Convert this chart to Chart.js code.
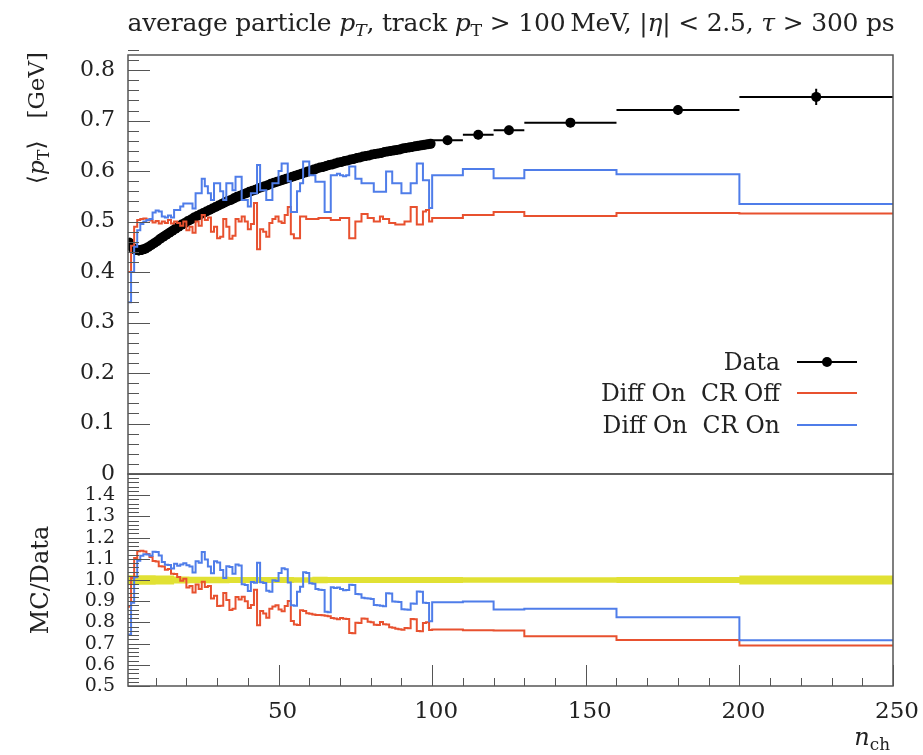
<!DOCTYPE html>
<html>
<head>
<meta charset="utf-8">
<script src="https://cdn.jsdelivr.net/npm/chart.js@4.4.1/dist/chart.umd.min.js"></script>
<style>
  html, body { margin: 0; padding: 0; background: #fff; }
  #wrap { position: relative; width: 923px; height: 755px; overflow: hidden; font-family: 'DejaVu Serif', 'Liberation Serif', serif; color: #222; }
  canvas { position: absolute; left: 0; }
  #c-main { top: 0; }
  #c-ratio { top: 470px; }
  .txt { position: absolute; white-space: nowrap; }
  #title { left: 127px; width: 768px; top: 8px; text-align: center; font-size: 25px; letter-spacing: -0.2px; }
  #ytitle { left: 21px; top: 352px; width: 300px; text-align: right; font-size: 23px; line-height: 30px; transform: rotate(-90deg); transform-origin: left top; }
  #rtitle { left: 25px; top: 680px; width: 200px; text-align: center; font-size: 24px; line-height: 30px; transform: rotate(-90deg); transform-origin: left top; }
  #xtitle { right: 33px; top: 723px; font-size: 24px; }
  sub { font-size: 70%; vertical-align: -0.3em; line-height: 0; }
  #legend { position: absolute; right: 66px; top: 346px; }
  .lrow { display: flex; align-items: center; justify-content: flex-end; height: 31.5px; font-size: 23.5px; }
  .lsample { position: relative; width: 60px; height: 0; margin-left: 17px; }
  .lsample .ln { position: absolute; left: 0; right: 0; top: -1px; height: 2px; }
  .lsample .dot { position: absolute; left: 25px; top: -5px; width: 10px; height: 10px; border-radius: 50%; background: #000; }
</style>
</head>
<body>
<div id="wrap">
  <canvas id="c-main" width="923" height="480"></canvas>
  <canvas id="c-ratio" width="923" height="285"></canvas>
  <div id="title" class="txt">average particle <i>p</i><sub><i>T</i></sub>, track <i>p</i><sub>T</sub> &gt; 100&#8201;MeV, |<i>η</i>| &lt; 2.5, <i>τ</i> &gt; 300 ps</div>
  <div id="ytitle" class="txt">⟨<i>p</i><sub>T</sub>⟩ &nbsp;&nbsp;[GeV]</div>
  <div id="rtitle" class="txt">MC/Data</div>
  <div id="xtitle" class="txt"><i>n</i><sub>ch</sub></div>
  <div id="legend"></div>
</div>
<script>
// bin edges in n_ch (unit bins up to 100, then wide bins)
const binEdges = [
  1, 2, 3, 4, 5, 6, 7, 8, 9, 10, 11, 12, 13, 14, 15, 16, 17, 18, 19, 20,
  21, 22, 23, 24, 25, 26, 27, 28, 29, 30, 31, 32, 33, 34, 35, 36, 37, 38, 39, 40,
  41, 42, 43, 44, 45, 46, 47, 48, 49, 50, 51, 52, 53, 54, 55, 56, 57, 58, 59, 60,
  61, 62, 63, 64, 65, 66, 67, 68, 69, 70, 71, 72, 73, 74, 75, 76, 77, 78, 79, 80,
  81, 82, 83, 84, 85, 86, 87, 88, 89, 90, 91, 92, 93, 94, 95, 96, 97, 98, 99, 100,
  110, 120, 130, 160, 200, 250
];

// Data <pT> [GeV]
const dataVals = [
  0.458, 0.448, 0.444, 0.443, 0.444, 0.446, 0.449, 0.453, 0.457, 0.461,
  0.466, 0.470, 0.474, 0.478, 0.482, 0.486, 0.490, 0.494, 0.497, 0.501,
  0.504, 0.508, 0.511, 0.514, 0.517, 0.520, 0.523, 0.526, 0.529, 0.532,
  0.535, 0.538, 0.541, 0.543, 0.546, 0.549, 0.551, 0.554, 0.556, 0.559,
  0.561, 0.563, 0.566, 0.568, 0.570, 0.572, 0.575, 0.577, 0.579, 0.581,
  0.583, 0.585, 0.587, 0.589, 0.591, 0.593, 0.595, 0.597, 0.599, 0.601,
  0.603, 0.605, 0.607, 0.608, 0.610, 0.612, 0.613, 0.615, 0.617, 0.618,
  0.620, 0.621, 0.623, 0.624, 0.626, 0.627, 0.629, 0.630, 0.631, 0.633,
  0.634, 0.635, 0.636, 0.638, 0.639, 0.640, 0.641, 0.642, 0.643, 0.645,
  0.646, 0.647, 0.648, 0.649, 0.650, 0.651, 0.652, 0.653, 0.654,
  0.661, 0.672, 0.681, 0.696, 0.721, 0.747
];
const dataErr = [
  0.010, 0.010, 0.010, 0.010, 0.010, 0.010, 0.010, 0.010, 0.010, 0.010,
  0.010, 0.010, 0.010, 0.010, 0.010, 0.008, 0.008, 0.008, 0.008, 0.008,
  0.008, 0.008, 0.008, 0.008, 0.008, 0.008, 0.008, 0.008, 0.008, 0.008,
  0.008, 0.008, 0.008, 0.008, 0.008, 0.008, 0.008, 0.008, 0.008, 0.008,
  0.008, 0.008, 0.008, 0.008, 0.008, 0.008, 0.008, 0.008, 0.008, 0.008,
  0.008, 0.008, 0.008, 0.008, 0.008, 0.008, 0.008, 0.008, 0.008, 0.008,
  0.009, 0.009, 0.009, 0.009, 0.009, 0.009, 0.009, 0.009, 0.009, 0.009,
  0.009, 0.009, 0.009, 0.009, 0.009, 0.009, 0.009, 0.009, 0.009, 0.009,
  0.009, 0.009, 0.009, 0.009, 0.009, 0.009, 0.009, 0.009, 0.009, 0.009,
  0.009, 0.009, 0.009, 0.009, 0.009, 0.009, 0.009, 0.009, 0.009,
  0.009, 0.009, 0.009, 0.009, 0.010, 0.016
];

// Diff On  CR Off
const mcCrOff = [
  0.400, 0.452, 0.490, 0.503, 0.505, 0.506, 0.504, 0.502, 0.498, 0.501,
  0.496, 0.500, 0.497, 0.503, 0.496, 0.500, 0.497, 0.492, 0.500, 0.483,
  0.490, 0.478, 0.500, 0.492, 0.513, 0.503, 0.508, 0.480, 0.490, 0.467,
  0.470, 0.505, 0.490, 0.466, 0.472, 0.505, 0.500, 0.510, 0.500, 0.485,
  0.495, 0.537, 0.445, 0.485, 0.480, 0.470, 0.497, 0.505, 0.510, 0.500,
  0.497, 0.513, 0.529, 0.475, 0.467, 0.467, 0.510, 0.510, 0.505, 0.505,
  0.505, 0.505, 0.507, 0.507, 0.507, 0.507, 0.503, 0.503, 0.503, 0.507,
  0.507, 0.507, 0.467, 0.467, 0.500, 0.500, 0.515, 0.515, 0.507, 0.507,
  0.500, 0.500, 0.510, 0.505, 0.505, 0.497, 0.497, 0.494, 0.494, 0.494,
  0.500, 0.500, 0.529, 0.529, 0.494, 0.494, 0.520, 0.523, 0.500,
  0.507, 0.513, 0.519, 0.511, 0.517, 0.516
];

// Diff On  CR On
const mcCrOn = [
  0.340, 0.400, 0.450, 0.483, 0.495, 0.500, 0.503, 0.505, 0.518, 0.522,
  0.520, 0.510, 0.508, 0.512, 0.508, 0.523, 0.523, 0.530, 0.536, 0.536,
  0.536, 0.526, 0.556, 0.556, 0.585, 0.570, 0.556, 0.543, 0.576, 0.576,
  0.560, 0.543, 0.576, 0.576, 0.562, 0.589, 0.589, 0.543, 0.543, 0.530,
  0.556, 0.556, 0.612, 0.562, 0.562, 0.543, 0.543, 0.576, 0.576, 0.600,
  0.615, 0.615, 0.580, 0.519, 0.519, 0.560, 0.576, 0.619, 0.619, 0.592,
  0.592, 0.579, 0.579, 0.579, 0.519, 0.519, 0.592, 0.592, 0.595, 0.592,
  0.590, 0.592, 0.609, 0.609, 0.585, 0.585, 0.576, 0.576, 0.576, 0.576,
  0.559, 0.559, 0.559, 0.559, 0.599, 0.599, 0.576, 0.576, 0.576, 0.556,
  0.556, 0.556, 0.576, 0.576, 0.615, 0.615, 0.582, 0.582, 0.527,
  0.592, 0.604, 0.586, 0.602, 0.594, 0.535
];

const xTickVals = [50, 100, 150, 200, 250];
const mainYTicks = [0, 0.1, 0.2, 0.3, 0.4, 0.5, 0.6, 0.7, 0.8];
const ratioYTicks = [0.5, 0.6, 0.7, 0.8, 0.9, 1.0, 1.1, 1.2, 1.3, 1.4];
const seriesNames = ['Data', 'Diff On\u00a0 CR Off', 'Diff On\u00a0 CR On'];

const COL_RED  = '#e8512f';
const COL_BLUE = '#4f7de9';
const COL_BAND = 'rgba(222,222,30,0.9)';
const FONT = "'DejaVu Serif', 'Liberation Serif', serif";

// histogram -> step points on the bin edges
function histPoints(vals) {
  const pts = vals.map((v, i) => ({ x: binEdges[i], y: v }));
  pts.push({ x: binEdges[vals.length], y: vals[vals.length - 1] });
  return pts;
}
const centers = dataVals.map((v, i) => (binEdges[i] + binEdges[i + 1]) / 2);

// frame + inward ticks, rivet style
const frameTicks = {
  id: 'frameTicks',
  afterDatasetsDraw(chart, args, o) {
    const { ctx, chartArea: a, scales } = chart;
    ctx.save();
    ctx.strokeStyle = '#555';
    ctx.lineWidth = 1;
    const ys = scales.y;
    const n0 = Math.round(ys.min / o.yMinor), n1 = Math.round(ys.max / o.yMinor);
    for (let n = n0; n <= n1; n++) {
      const v = n * o.yMinor;
      const major = Math.abs(v / o.yMajor - Math.round(v / o.yMajor)) < 1e-6;
      const py = Math.round(ys.getPixelForValue(v)) + 0.5;
      ctx.beginPath();
      ctx.moveTo(a.left, py);
      ctx.lineTo(a.left + (major ? 22 : 11), py);
      ctx.stroke();
    }
    if (o.xTicks) {
      const xs = scales.x;
      for (let v = 10; v <= 250; v += 10) {
        const px = Math.round(xs.getPixelForValue(v)) + 0.5;
        const len = v % 50 === 0 ? 21 : 8;
        ctx.beginPath();
        ctx.moveTo(px, a.bottom);
        ctx.lineTo(px, a.bottom - len);
        ctx.stroke();
      }
    }
    ctx.lineWidth = 1.5;
    ctx.strokeRect(a.left, a.top, a.right - a.left, a.bottom - a.top);
    ctx.restore();
  }
};

// data error bars (x: bin width, y: uncertainty)
const errBars = {
  id: 'errBars',
  beforeDatasetsDraw(chart) {
    const { ctx, scales: { x, y } } = chart;
    ctx.save();
    ctx.strokeStyle = '#000';
    ctx.lineWidth = 2;
    dataVals.forEach((v, i) => {
      const py = y.getPixelForValue(v);
      const px = x.getPixelForValue(centers[i]);
      ctx.beginPath();
      ctx.moveTo(x.getPixelForValue(binEdges[i]), py);
      ctx.lineTo(x.getPixelForValue(binEdges[i + 1]), py);
      ctx.moveTo(px, y.getPixelForValue(v - dataErr[i]));
      ctx.lineTo(px, y.getPixelForValue(v + dataErr[i]));
      ctx.stroke();
    });
    ctx.restore();
  }
};

// no extra room for labels hanging past the ends of an axis
function noOverhang(s) {
  s.paddingTop = 0; s.paddingBottom = 0; s.paddingLeft = 0; s.paddingRight = 0;
}

function xScale(show) {
  return {
    type: 'linear', min: 1, max: 250, display: show,
    afterBuildTicks: sc => { sc.ticks = xTickVals.map(v => ({ value: v })); },
    afterFit: sc => { if (show) sc.height = 69; noOverhang(sc); },
    grid: { display: false, drawTicks: false }, border: { display: false },
    ticks: { padding: 12, labelOffset: 4, color: '#222', font: { family: FONT, size: 23 }, maxRotation: 0, autoSkip: false }
  };
}

function yScale(min, max, tickVals, size) {
  return {
    min, max,
    afterBuildTicks: s => { s.ticks = tickVals.map(v => ({ value: v })); },
    afterFit: s => { s.width = 128; noOverhang(s); },
    grid: { display: false, drawTicks: false }, border: { display: false },
    ticks: {
      padding: 13, color: '#222', autoSkip: false,
      font: { family: FONT, size },
      callback: v => (v === 0 ? '0' : v.toFixed(1))
    }
  };
}

const stepLine = (label, data, color, order) => ({
  label, data, borderColor: color, borderWidth: 2, pointRadius: 0,
  stepped: true, fill: false, order
});

new Chart(document.getElementById('c-main'), {
  type: 'line',
  data: {
    datasets: [
      stepLine(seriesNames[2], histPoints(mcCrOn), COL_BLUE, 1),
      stepLine(seriesNames[1], histPoints(mcCrOff), COL_RED, 2),
      {
        label: seriesNames[0],
        data: dataVals.map((v, i) => ({ x: centers[i], y: v })),
        showLine: false, pointRadius: 5, pointBackgroundColor: '#000',
        pointBorderWidth: 0, order: 3
      }
    ]
  },
  options: {
    responsive: false, animation: false,
    layout: { autoPadding: false, padding: { top: 55, right: 30, bottom: 6, left: 0 } },
    plugins: {
      legend: { display: false }, tooltip: { enabled: false },
      frameTicks: { yMinor: 0.02, yMajor: 0.1, xTicks: false }
    },
    scales: { x: xScale(false), y: yScale(0, 0.83, mainYTicks, 22) }
  },
  plugins: [errBars, frameTicks]
});

const ratioOff = mcCrOff.map((v, i) => v / dataVals[i]);
const ratioOn  = mcCrOn.map((v, i) => v / dataVals[i]);
const bandHi = dataErr.map((e, i) => 1 + e / dataVals[i]);
const bandLo = dataErr.map((e, i) => 1 - e / dataVals[i]);

new Chart(document.getElementById('c-ratio'), {
  type: 'line',
  data: {
    datasets: [
      stepLine(seriesNames[2], histPoints(ratioOn), COL_BLUE, 1),
      stepLine(seriesNames[1], histPoints(ratioOff), COL_RED, 2),
      { label: 'band hi', data: histPoints(bandHi), stepped: true, borderWidth: 0, pointRadius: 0,
        fill: '+1', backgroundColor: COL_BAND, order: 3 },
      { label: 'band lo', data: histPoints(bandLo), stepped: true, borderWidth: 0, pointRadius: 0,
        fill: false, order: 4 }
    ]
  },
  options: {
    responsive: false, animation: false,
    layout: { autoPadding: false, padding: { top: 4, right: 30, bottom: 0, left: 0 } },
    plugins: {
      legend: { display: false }, tooltip: { enabled: false },
      frameTicks: { yMinor: 0.02, yMajor: 0.1, xTicks: true }
    },
    scales: { x: xScale(true), y: yScale(0.5, 1.5, ratioYTicks, 19) }
  },
  plugins: [frameTicks]
});

// legend
const legendColors = ['#000', COL_RED, COL_BLUE];
document.getElementById('legend').innerHTML = seriesNames.map((name, i) => `
  <div class="lrow">
    <span>${name}</span>
    <span class="lsample"><span class="ln" style="background:${legendColors[i]}"></span>${i === 0 ? '<span class="dot"></span>' : ''}</span>
  </div>`).join('');
</script>
</body>
</html>
